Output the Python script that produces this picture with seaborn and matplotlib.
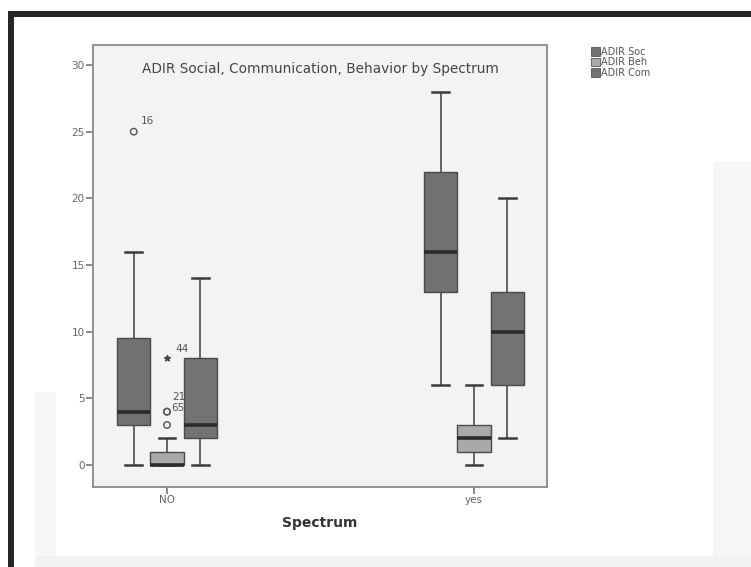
import numpy as np
import pandas as pd
import matplotlib
matplotlib.use("Agg")
import matplotlib.pyplot as plt
import seaborn as sns
from matplotlib.patches import Rectangle, Patch

# ---- data ----
groups = ["NO", "yes"]
measures = ["ADIR Soc", "ADIR Beh", "ADIR Com"]
# five-number summaries per group: min, q1, median, q3, max
soc_stats = [[0, 3, 4, 9.5, 16], [6, 13, 16, 22, 28]]
beh_stats = [[0, 0, 0, 1, 2], [0, 1, 2, 3, 6]]
com_stats = [[0, 2, 3, 8, 14], [2, 6, 10, 13, 20]]

outlier_group = ["NO", "NO", "NO", "NO", "NO"]
outlier_measure = ["ADIR Soc", "ADIR Beh", "ADIR Beh", "ADIR Beh", "ADIR Beh"]
outlier_value = [25, 8, 4, 4, 3]
outlier_label = ["16", "44", "21", "65", ""]
outlier_marker = ["o", "*", "o", "o", "o"]

y_ticks = [0, 5, 10, 15, 20, 25, 30]
title = "ADIR Social, Communication, Behavior by Spectrum"
x_label = "Spectrum"

# ---- styles ----
palette = {"ADIR Soc": "#717171", "ADIR Beh": "#a9a9a9", "ADIR Com": "#737373"}
label_offsets = [(5, 4), (6, 3), (4, 7), (3, -1), (0, 0)]  # points
BOX_WIDTH = 0.325

rows = []
for gi, g in enumerate(groups):
    for m, stats in zip(measures, [soc_stats, beh_stats, com_stats]):
        for v in stats[gi]:
            rows.append({"Spectrum": g, "measure": m, "value": v})
df = pd.DataFrame(rows)

W, H = 751, 567
fig = plt.figure(figsize=(W / 100, H / 100), dpi=100)
fig.patch.set_facecolor("white")

def px_rect(x0, y0, x1, y1, color, z=0):
    fig.add_artist(Rectangle((x0 / W, 1 - y1 / H), (x1 - x0) / W, (y1 - y0) / H,
                             transform=fig.transFigure, facecolor=color,
                             edgecolor="none", zorder=z))

# faint background regions
px_rect(713, 162, 751, 567, "#f6f6f6")
px_rect(35, 556, 751, 567, "#f1f2f2")
px_rect(35, 392, 56, 556, "#f7f7f7")
# black frame (top and left)
px_rect(8, 11, 751, 17, "#262626", 5)
px_rect(8, 11, 14, 567, "#262626", 5)

ax = fig.add_axes([93 / W, 1 - 487 / H, (547 - 93) / W, (487 - 45) / H])
ax.set_facecolor("#f2f3f5")

sns.boxplot(data=df, x="Spectrum", y="value", hue="measure", order=groups,
            hue_order=measures, palette=palette, width=BOX_WIDTH, whis=(0, 100),
            showfliers=False, saturation=1, linewidth=1.0, linecolor="#4a4a4a",
            medianprops=dict(color="#2b2b2b", linewidth=2.6),
            whiskerprops=dict(color="#4a4a4a", linewidth=1.2),
            capprops=dict(color="#3a3a3a", linewidth=1.8),
            legend=False, ax=ax)

n = len(measures)
for g, m, v, lab, mk, off in zip(outlier_group, outlier_measure, outlier_value,
                                 outlier_label, outlier_marker, label_offsets):
    x = groups.index(g) + (measures.index(m) - (n - 1) / 2) * BOX_WIDTH / n
    if mk == "o":
        ax.scatter([x], [v], s=22, marker="o", facecolors="none",
                   edgecolors="#555555", linewidths=1.0, zorder=4)
    else:
        ax.scatter([x], [v], s=18, marker="*", color="#444444", zorder=4)
    if lab:
        ax.annotate(lab, (x, v), xytext=off, textcoords="offset points",
                    fontsize=7.5, color="#555555", ha="left", va="bottom")

ax.set_xlim(-0.241, 1.238)
ax.set_ylim(-1.65, 31.5)
ax.set_yticks(y_ticks)
ax.set_yticklabels([str(t) for t in y_ticks])
ax.tick_params(axis="both", direction="out", length=5, width=1.2,
               color="#777777", labelsize=7.5, labelcolor="#666666", pad=1)
ax.set_ylabel("")
ax.set_xlabel(x_label, fontsize=10, fontweight="bold", color="#333333", labelpad=8)
for s in ax.spines.values():
    s.set_color("#909090")
    s.set_linewidth(1.4)

ax.text(0.5, 1 - (69 - 45) / 442, title, transform=ax.transAxes, ha="center",
        va="center", fontsize=9.8, color="#444444")

handles = [Patch(facecolor=palette[m], edgecolor="#555555", linewidth=0.6) for m in measures]
fig.legend(handles, measures, loc="upper left", bbox_to_anchor=(586 / W, 1 - 42 / H),
           frameon=False, fontsize=7, handlelength=0.9, handleheight=1.0,
           handletextpad=0.15, labelspacing=0.05, borderpad=0, labelcolor="#555555")

fig.savefig("out.png", dpi=100, facecolor="white")
